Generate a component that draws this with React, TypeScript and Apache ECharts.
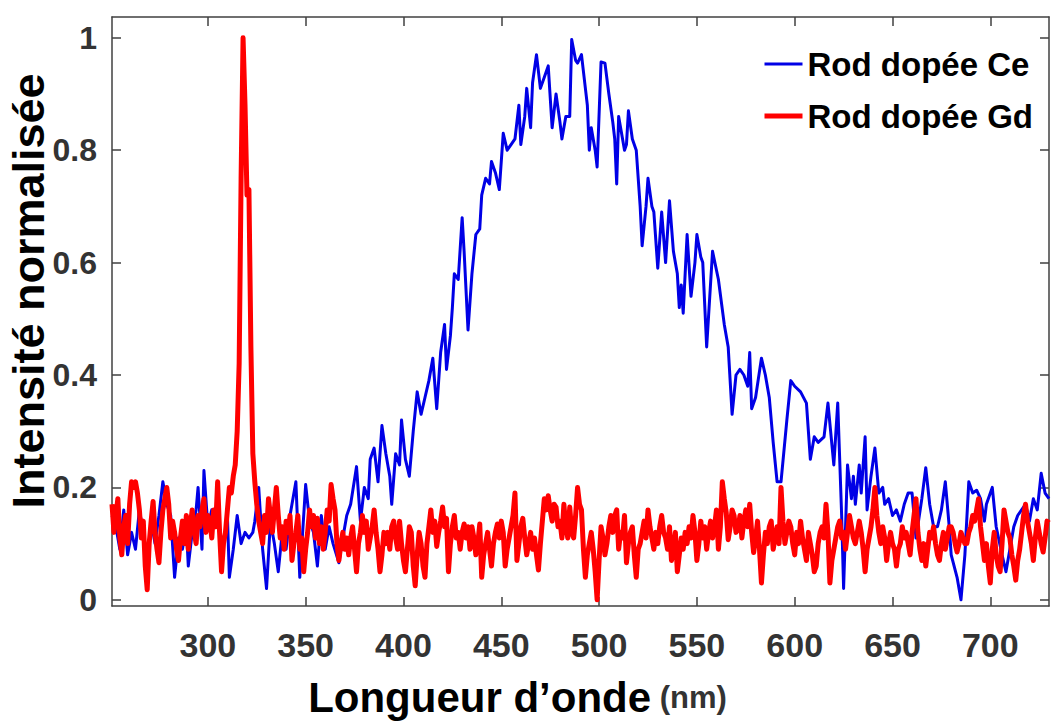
import React, { useEffect, useRef } from "react";
import * as echarts from "echarts";

const seriesNames = ["Rod dopée Ce", "Rod dopée Gd"];
const yAxisTitle = "Intensité normalisée";
const xTicks = [300, 350, 400, 450, 500, 550, 600, 650, 700];
const yTicks = [0, 0.2, 0.4, 0.6, 0.8, 1];
const xRange = [251, 730];
const yRange = [-0.011, 1.037];

// Ce-doped rod: [wavelength (nm), normalised intensity]
const ceSpectrum: [number, number][] = [
  [251, 0.15], [253, 0.13], [255, 0.09], [257, 0.16], [259, 0.08], [261, 0.12], [263, 0.09],
  [265, 0.16], [267, 0.12], [269, 0.07], [271, 0.14], [273, 0.1], [275, 0.15], [277, 0.21],
  [279, 0.17], [281, 0.15], [283, 0.04], [285, 0.11], [287, 0.09], [289, 0.13], [290, 0.06],
  [292, 0.12], [294, 0.16], [295, 0.2], [297, 0.09], [298, 0.23], [300, 0.13], [302, 0.16],
  [304, 0.14], [306, 0.12], [308, 0.1], [310, 0.15], [311, 0.04], [313, 0.09], [315, 0.15],
  [317, 0.1], [319, 0.12], [321, 0.11], [323, 0.12], [324, 0.14], [326, 0.2], [328, 0.09],
  [330, 0.02], [332, 0.14], [334, 0.1], [336, 0.05], [338, 0.12], [340, 0.09], [342, 0.15],
  [345, 0.21], [347, 0.04], [350, 0.205], [352, 0.14], [354, 0.12], [356, 0.06], [358, 0.15],
  [360, 0.09], [362, 0.13], [364, 0.1], [367, 0.066], [369, 0.11], [371, 0.15], [373, 0.17],
  [376, 0.237], [378, 0.14], [380, 0.2], [382, 0.18], [383, 0.25], [385, 0.27], [387, 0.21],
  [389, 0.31], [391, 0.26], [393, 0.22], [394, 0.17], [396, 0.26], [398, 0.24], [399, 0.32],
  [401, 0.25], [403, 0.22], [405, 0.3], [407, 0.37], [409, 0.33], [411, 0.36], [413, 0.39],
  [415, 0.43], [417, 0.34], [419, 0.44], [421, 0.49], [422, 0.41], [424, 0.47], [425, 0.52],
  [426, 0.58], [428, 0.57], [430, 0.68], [431, 0.62], [433, 0.48], [435, 0.58], [437, 0.65],
  [439, 0.66], [440, 0.72], [442, 0.75], [444, 0.74], [445, 0.78], [447, 0.76], [449, 0.73],
  [451, 0.83], [453, 0.8], [455, 0.81], [457, 0.82], [459, 0.88], [460, 0.81], [462, 0.86],
  [463, 0.91], [465, 0.84], [466, 0.92], [468, 0.97], [470, 0.91], [472, 0.93], [474, 0.95],
  [476, 0.84], [478, 0.9], [480, 0.85], [481, 0.82], [483, 0.86], [485, 0.86], [486, 0.997],
  [488, 0.96], [489, 0.955], [491, 0.97], [493, 0.91], [494, 0.88], [495, 0.8], [496, 0.84],
  [498, 0.8], [499, 0.77], [501, 0.957], [503, 0.955], [505, 0.9], [507, 0.85], [508, 0.82],
  [509, 0.74], [510, 0.86], [511, 0.84], [513, 0.8], [514, 0.81], [515, 0.87], [517, 0.82],
  [519, 0.8], [521, 0.7], [522, 0.63], [524, 0.7], [525, 0.75], [527, 0.7], [528, 0.69],
  [530, 0.59], [532, 0.69], [534, 0.6], [536, 0.71], [538, 0.62], [540, 0.58], [541, 0.52],
  [542, 0.56], [543, 0.51], [545, 0.65], [547, 0.54], [549, 0.6], [550, 0.65], [552, 0.61],
  [553, 0.6], [555, 0.45], [558, 0.62], [561, 0.57], [564, 0.49], [566, 0.45], [568, 0.33],
  [570, 0.4], [572, 0.41], [574, 0.4], [576, 0.38], [577, 0.44], [578, 0.34], [580, 0.36],
  [583, 0.43], [585, 0.4], [587, 0.36], [589, 0.28], [591, 0.21], [593, 0.21], [596, 0.32],
  [598, 0.39], [600, 0.38], [603, 0.37], [606, 0.35], [608, 0.25], [610, 0.29], [612, 0.28],
  [615, 0.29], [617, 0.35], [620, 0.24], [622, 0.35], [624, 0.15], [625, 0.02], [627, 0.24],
  [629, 0.18], [630, 0.22], [631, 0.17], [633, 0.24], [634, 0.19], [636, 0.29], [637, 0.16],
  [639, 0.22], [641, 0.27], [643, 0.19], [645, 0.2], [646, 0.17], [648, 0.18], [650, 0.15],
  [652, 0.16], [654, 0.14], [656, 0.17], [658, 0.19], [660, 0.19], [662, 0.11], [665, 0.18],
  [667, 0.235], [669, 0.17], [671, 0.13], [673, 0.13], [675, 0.16], [677, 0.21], [679, 0.13],
  [680, 0.08], [683, 0.04], [685, 0.0], [687, 0.08], [689, 0.21], [691, 0.19], [693, 0.195],
  [695, 0.18], [697, 0.14], [698, 0.17], [701, 0.2], [703, 0.13], [706, 0.08], [708, 0.05],
  [710, 0.09], [712, 0.13], [714, 0.15], [716, 0.16], [718, 0.17], [720, 0.14], [722, 0.18],
  [724, 0.16], [726, 0.225], [728, 0.19], [730, 0.18],
];

// Gd-doped rod: one reading per nm, from 251 nm to 730 nm
const gdStartNm = 251;
const gdIntensity: number[] = [
  0.17, 0.12, 0.15, 0.18, 0.11, 0.08, 0.13, 0.15, 0.1, 0.17, // 251-260
  0.21, 0.2, 0.21, 0.19, 0.16, 0.11, 0.14, 0.06, 0.018, 0.1, // 261-270
  0.14, 0.175, 0.12, 0.09, 0.066, 0.12, 0.16, 0.18, 0.2, 0.17, // 271-280
  0.11, 0.14, 0.12, 0.09, 0.07, 0.11, 0.14, 0.1, 0.15, 0.09, // 281-290
  0.13, 0.16, 0.12, 0.1, 0.15, 0.13, 0.16, 0.18, 0.12, 0.15, // 291-300
  0.14, 0.11, 0.16, 0.13, 0.21, 0.12, 0.05, 0.1, 0.12, 0.16, // 301-310
  0.2, 0.19, 0.22, 0.24, 0.3, 0.42, 0.75, 1.0, 0.88, 0.72, // 311-320
  0.73, 0.45, 0.26, 0.21, 0.17, 0.14, 0.12, 0.1, 0.15, 0.12, // 321-330
  0.18, 0.15, 0.12, 0.16, 0.2, 0.15, 0.11, 0.13, 0.09, 0.14, // 331-340
  0.12, 0.15, 0.07, 0.1, 0.12, 0.15, 0.09, 0.11, 0.05, 0.09, // 341-350
  0.12, 0.16, 0.13, 0.15, 0.11, 0.145, 0.1, 0.13, 0.09, 0.12, // 351-360
  0.16, 0.14, 0.205, 0.18, 0.16, 0.1, 0.07, 0.1, 0.12, 0.09, // 361-370
  0.11, 0.08, 0.11, 0.13, 0.09, 0.05, 0.1, 0.12, 0.15, 0.12, // 371-380
  0.14, 0.09, 0.11, 0.13, 0.16, 0.12, 0.09, 0.05, 0.08, 0.12, // 381-390
  0.1, 0.12, 0.09, 0.13, 0.14, 0.11, 0.09, 0.14, 0.1, 0.07, // 391-400
  0.05, 0.09, 0.13, 0.12, 0.06, 0.025, 0.08, 0.12, 0.1, 0.06, // 401-410
  0.04, 0.1, 0.13, 0.16, 0.12, 0.14, 0.095, 0.12, 0.14, 0.165, // 411-420
  0.13, 0.145, 0.05, 0.1, 0.13, 0.15, 0.11, 0.12, 0.09, 0.12, // 421-430
  0.135, 0.11, 0.13, 0.09, 0.13, 0.11, 0.08, 0.1, 0.135, 0.04, // 431-440
  0.08, 0.1, 0.12, 0.09, 0.06, 0.1, 0.12, 0.135, 0.11, 0.14, // 441-450
  0.12, 0.06, 0.09, 0.11, 0.13, 0.15, 0.19, 0.07, 0.1, 0.13, // 451-460
  0.145, 0.11, 0.08, 0.1, 0.12, 0.09, 0.11, 0.08, 0.053, 0.1, // 461-470
  0.14, 0.18, 0.16, 0.185, 0.16, 0.14, 0.17, 0.165, 0.13, 0.14, // 471-480
  0.11, 0.17, 0.13, 0.11, 0.165, 0.12, 0.11, 0.15, 0.2, 0.17, // 481-490
  0.16, 0.09, 0.04, 0.08, 0.1, 0.12, 0.09, 0.05, 0.0, 0.07, // 491-500
  0.13, 0.11, 0.08, 0.1, 0.13, 0.15, 0.12, 0.15, 0.16, 0.09, // 501-510
  0.12, 0.11, 0.15, 0.066, 0.1, 0.12, 0.13, 0.08, 0.04, 0.09, // 511-520
  0.1, 0.12, 0.14, 0.11, 0.16, 0.13, 0.11, 0.09, 0.12, 0.1, // 521-530
  0.13, 0.15, 0.12, 0.11, 0.09, 0.13, 0.07, 0.09, 0.12, 0.05, // 531-540
  0.08, 0.11, 0.09, 0.12, 0.1, 0.13, 0.11, 0.15, 0.12, 0.07, // 541-550
  0.1, 0.14, 0.11, 0.13, 0.09, 0.12, 0.14, 0.11, 0.13, 0.16, // 551-560
  0.09, 0.13, 0.21, 0.18, 0.155, 0.107, 0.13, 0.16, 0.15, 0.12, // 561-570
  0.125, 0.15, 0.11, 0.14, 0.16, 0.13, 0.17, 0.12, 0.084, 0.11, // 571-580
  0.14, 0.09, 0.03, 0.08, 0.12, 0.1, 0.13, 0.14, 0.09, 0.11, // 581-590
  0.13, 0.1, 0.2, 0.14, 0.1, 0.12, 0.14, 0.13, 0.1, 0.08, // 591-600
  0.12, 0.1, 0.14, 0.11, 0.09, 0.07, 0.12, 0.1, 0.08, 0.05, // 601-610
  0.06, 0.1, 0.12, 0.13, 0.11, 0.17, 0.12, 0.03, 0.07, 0.09, // 611-620
  0.11, 0.13, 0.14, 0.11, 0.12, 0.09, 0.12, 0.15, 0.13, 0.11, // 621-630
  0.1, 0.12, 0.14, 0.12, 0.09, 0.05, 0.09, 0.11, 0.13, 0.16, // 631-640
  0.2, 0.15, 0.12, 0.1, 0.13, 0.11, 0.07, 0.1, 0.12, 0.1, // 641-650
  0.09, 0.06, 0.09, 0.1, 0.13, 0.11, 0.12, 0.1, 0.08, 0.12, // 651-660
  0.15, 0.18, 0.12, 0.09, 0.07, 0.1, 0.06, 0.09, 0.12, 0.11, // 661-670
  0.13, 0.1, 0.08, 0.07, 0.1, 0.12, 0.09, 0.11, 0.13, 0.13, // 671-680
  0.12, 0.1, 0.085, 0.1, 0.12, 0.11, 0.1, 0.1, 0.12, 0.13, // 681-690
  0.15, 0.14, 0.16, 0.18, 0.13, 0.1, 0.07, 0.1, 0.06, 0.03, // 691-700
  0.09, 0.12, 0.08, 0.06, 0.05, 0.1, 0.16, 0.14, 0.12, 0.11, // 701-710
  0.08, 0.06, 0.035, 0.07, 0.09, 0.12, 0.15, 0.17, 0.14, 0.12, // 711-720
  0.1, 0.07, 0.11, 0.14, 0.12, 0.1, 0.085, 0.11, 0.14, 0.137, // 721-730
];

const FONT = "'Liberation Sans', Arial, Helvetica, sans-serif";
const AXIS_COLOR = "#404040";
const CE_COLOR = "#0000e6";
const GD_COLOR = "#ff0000";

export default function App() {
  const ref = useRef<HTMLDivElement>(null);

  useEffect(() => {
    if (!ref.current) return;
    const chart = echarts.init(ref.current, undefined, { renderer: "svg" });

    const gdSpectrum = gdIntensity.map((v, i) => [gdStartNm + i, v]);
    const axisLine = { show: true, onZero: false, lineStyle: { color: AXIS_COLOR, width: 1.5 } };
    const tickStyle = { color: AXIS_COLOR, width: 1.5 };

    chart.setOption({
      animation: false,
      backgroundColor: "#ffffff",
      grid: {
        left: 112,
        right: 2,
        top: 17,
        bottom: 119,
        containLabel: false,
        outerBoundsMode: "none",
      },
      graphic: [
        {
          type: "text",
          x: 28,
          y: 291,
          rotation: Math.PI / 2,
          style: {
            text: yAxisTitle,
            fontFamily: FONT,
            fontSize: 45,
            fontWeight: "bold",
            fill: "#000",
            align: "center",
            verticalAlign: "middle",
          },
        },
      ],
      legend: {
        data: [
          { name: seriesNames[0], lineStyle: { width: 3, color: CE_COLOR } },
          { name: seriesNames[1], lineStyle: { width: 5, color: GD_COLOR } },
        ],
        orient: "vertical",
        left: 757,
        top: 39,
        itemWidth: 38,
        itemHeight: 14,
        itemGap: 12,
        itemStyle: { opacity: 0 },
        textStyle: {
          fontFamily: FONT,
          fontSize: 33,
          fontWeight: "bold",
          color: "#000",
          lineHeight: 40,
        },
      },
      xAxis: [
        {
          type: "value",
          position: "bottom",
          min: xRange[0],
          max: xRange[1],
          axisLine,
          axisTick: { show: true, inside: true, length: 9, customValues: xTicks, lineStyle: tickStyle },
          axisLabel: {
            customValues: xTicks,
            margin: 22,
            fontFamily: FONT,
            fontSize: 34,
            fontWeight: "bold",
            color: "#333",
          },
          splitLine: { show: false },
          name: "{a|Longueur d\u2019onde}{b| (nm)}",
          nameLocation: "middle",
          nameGap: 70,
          nameTextStyle: {
            padding: [0, 126, 0, 0],
            rich: {
              a: { fontFamily: FONT, fontSize: 42, fontWeight: "bold", color: "#000" },
              b: { fontFamily: FONT, fontSize: 31, fontWeight: "bold", color: "#333" },
            },
          },
        },
        {
          type: "value",
          position: "top",
          min: xRange[0],
          max: xRange[1],
          axisLine,
          axisTick: { show: true, inside: true, length: 9, customValues: xTicks, lineStyle: tickStyle },
          axisLabel: { show: false },
          splitLine: { show: false },
        },
      ],
      yAxis: [
        {
          type: "value",
          position: "left",
          min: yRange[0],
          max: yRange[1],
          axisLine,
          axisTick: { show: true, inside: true, length: 9, customValues: yTicks, lineStyle: tickStyle },
          axisLabel: {
            customValues: yTicks,
            margin: 15,
            fontFamily: FONT,
            fontSize: 32,
            fontWeight: "bold",
            color: "#333",
          },
          splitLine: { show: false },
        },
        {
          type: "value",
          position: "right",
          min: yRange[0],
          max: yRange[1],
          axisLine,
          axisTick: { show: true, inside: true, length: 9, customValues: yTicks, lineStyle: tickStyle },
          axisLabel: { show: false },
          splitLine: { show: false },
        },
      ],
      series: [
        {
          name: seriesNames[0],
          type: "line",
          xAxisIndex: 0,
          yAxisIndex: 0,
          data: ceSpectrum,
          showSymbol: false,
          symbol: "none",
          lineStyle: { color: CE_COLOR, width: 3, join: "round" },
          itemStyle: { color: CE_COLOR },
        },
        {
          name: seriesNames[1],
          type: "line",
          xAxisIndex: 0,
          yAxisIndex: 0,
          data: gdSpectrum,
          showSymbol: false,
          symbol: "none",
          lineStyle: { color: GD_COLOR, width: 5, join: "round" },
          itemStyle: { color: GD_COLOR },
        },
      ],
    });

    return () => chart.dispose();
  }, []);

  return (
    <div
      ref={ref}
      style={{ position: "fixed", left: 0, top: 0, width: 1051, height: 725, background: "#fff" }}
    />
  );
}
